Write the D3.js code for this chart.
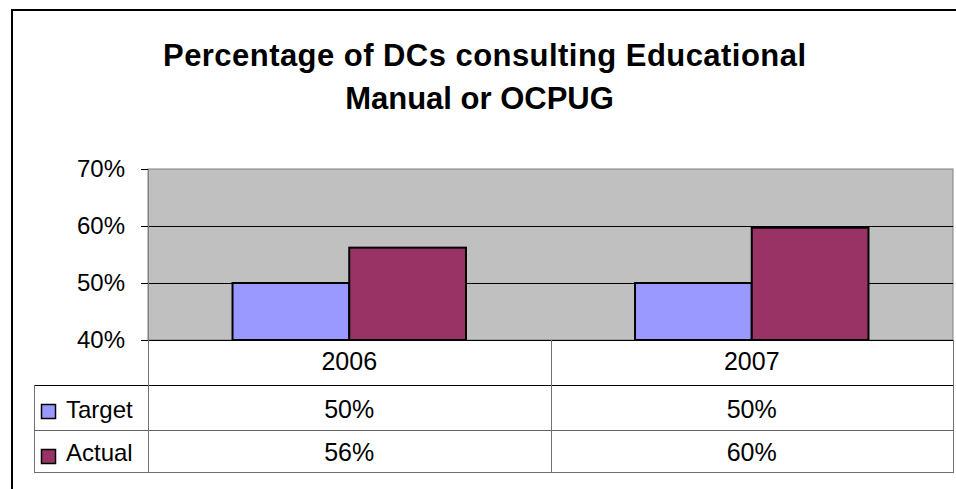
<!DOCTYPE html>
<html>
<head>
<meta charset="utf-8">
<script src="https://cdn.jsdelivr.net/npm/d3@7"></script>
<style>
  body { margin: 0; background: #fff; }
  text { font-family: Arial, "Liberation Sans", sans-serif; fill: #000; }
</style>
</head>
<body>
<div id="chart"></div>
<script>
'use strict';

var years = ['2006', '2007'];
var seriesNames = ['Target', 'Actual'];
var targetValues = [0.50, 0.50];
var actualValues = [0.562, 0.597];
var yTicks = [0.4, 0.5, 0.6, 0.7];
var titleLines = ['Percentage of DCs consulting Educational', 'Manual or OCPUG'];
var colors = ['#9999FF', '#993366'];

var width = 956, height = 489;
var plot = {left: 148, right: 953, top: 169, bottom: 340};
var rowH = [45, 45, 42];

var svg = d3.select('#chart').append('svg')
  .attr('width', width)
  .attr('height', height);

// outer frame
svg.append('rect')
  .attr('x', 12).attr('y', 10)
  .attr('width', width).attr('height', height)
  .attr('fill', '#fff')
  .attr('stroke', '#000')
  .attr('stroke-width', 2);

// title
var title = svg.append('text')
  .attr('text-anchor', 'middle')
  .style('font-size', '31px')
  .style('font-weight', 'bold');

title.append('tspan')
  .attr('x', 484.5)
  .attr('y', 66)
  .attr('textLength', 643)
  .attr('lengthAdjust', 'spacing')
  .text(titleLines[0]);

title.append('tspan')
  .attr('x', 479.5)
  .attr('y', 109)
  .text(titleLines[1]);

var x0 = d3.scaleBand()
  .domain(years)
  .range([plot.left, plot.right])
  .paddingInner(0)
  .paddingOuter(0);

var groupPad = 0.21;
var x1 = d3.scaleBand()
  .domain(seriesNames)
  .range([x0.bandwidth() * groupPad, x0.bandwidth() * (1 - groupPad)]);

var y = d3.scaleLinear()
  .domain([0.4, 0.7])
  .range([plot.bottom, plot.top]);

// plot background
svg.append('rect')
  .attr('x', plot.left).attr('y', plot.top)
  .attr('width', plot.right - plot.left)
  .attr('height', plot.bottom - plot.top)
  .attr('fill', '#C0C0C0')
  .attr('stroke', '#808080')
  .attr('stroke-width', 1);

// gridlines
svg.append('g')
  .selectAll('line')
  .data(yTicks.slice(1, -1))
  .enter().append('line')
  .attr('x1', plot.left).attr('x2', plot.right)
  .attr('y1', function(d) { return Math.round(y(d)) + 0.5; })
  .attr('y2', function(d) { return Math.round(y(d)) + 0.5; })
  .attr('stroke', '#000')
  .attr('stroke-width', 1);

// y axis
var yAxis = svg.append('g')
  .attr('transform', 'translate(' + plot.left + ',0)')
  .call(d3.axisLeft(y).tickValues(yTicks).tickFormat(d3.format('.0%')).tickSize(7).tickPadding(16));
yAxis.select('.domain').attr('stroke', '#808080');
yAxis.selectAll('.tick line').attr('stroke', '#000');
yAxis.selectAll('.tick text')
  .style('font-size', '24px')
  .attr('font-family', null);

// bars
var data = years.map(function(yr, i) {
  return {year: yr, values: [
    {name: seriesNames[0], value: targetValues[i]},
    {name: seriesNames[1], value: actualValues[i]}
  ]};
});

var groups = svg.append('g').selectAll('g')
  .data(data)
  .enter().append('g')
  .attr('transform', function(d) { return 'translate(' + x0(d.year) + ',0)'; });

groups.selectAll('rect')
  .data(function(d) { return d.values; })
  .enter().append('rect')
  .attr('x', function(d) { return x1(d.name); })
  .attr('y', function(d) { return y(d.value); })
  .attr('width', x1.bandwidth())
  .attr('height', function(d) { return plot.bottom - y(d.value); })
  .attr('fill', function(d, i) { return colors[i]; })
  .attr('stroke', '#000')
  .attr('stroke-width', 2);

// x axis line
svg.append('line')
  .attr('x1', plot.left).attr('x2', plot.right)
  .attr('y1', plot.bottom + 0.5).attr('y2', plot.bottom + 0.5)
  .attr('stroke', '#000');

// data table
var tableTop = plot.bottom;
var rowTops = [tableTop, tableTop + rowH[0], tableTop + rowH[0] + rowH[1]];
var tableBottom = rowTops[2] + rowH[2];
var legendLeft = 34;
var table = svg.append('g');

// horizontal lines
table.append('line')
  .attr('x1', legendLeft).attr('x2', plot.right)
  .attr('y1', rowTops[1] + 0.5).attr('y2', rowTops[1] + 0.5)
  .attr('stroke', '#000');
table.append('line')
  .attr('x1', legendLeft).attr('x2', plot.right)
  .attr('y1', rowTops[2] + 0.5).attr('y2', rowTops[2] + 0.5)
  .attr('stroke', '#606060');
table.append('line')
  .attr('x1', legendLeft).attr('x2', plot.right)
  .attr('y1', tableBottom + 0.5).attr('y2', tableBottom + 0.5)
  .attr('stroke', '#707070');

// vertical lines
var vlines = [
  {x: legendLeft, y1: rowTops[1]},
  {x: plot.left, y1: tableTop},
  {x: x0(years[1]), y1: tableTop},
  {x: plot.right, y1: tableTop}
];
table.selectAll('.vline')
  .data(vlines)
  .enter().append('line')
  .attr('class', 'vline')
  .attr('x1', function(d) { return Math.round(d.x) + 0.5; })
  .attr('x2', function(d) { return Math.round(d.x) + 0.5; })
  .attr('y1', function(d) { return d.y1; })
  .attr('y2', tableBottom + 1)
  .attr('stroke', '#707070');

// header row: years
table.selectAll('.yr')
  .data(years)
  .enter().append('text')
  .attr('class', 'yr')
  .attr('x', function(d) { return x0(d) + x0.bandwidth() / 2; })
  .attr('y', tableTop + 30)
  .attr('text-anchor', 'middle')
  .style('font-size', '25px')
  .text(function(d) { return d; });

// value rows
var rows = [targetValues, actualValues];
var rowBase = [33, 31];
rows.forEach(function(vals, r) {
  var rowY = rowTops[r + 1];
  table.selectAll('.val' + r)
    .data(vals)
    .enter().append('text')
    .attr('class', 'val' + r)
    .attr('x', function(d, i) { return x0(years[i]) + x0.bandwidth() / 2; })
    .attr('y', rowY + rowBase[r])
    .attr('text-anchor', 'middle')
    .style('font-size', '25px')
    .text(function(d) { return d3.format('.0%')(d); });

  table.append('rect')
    .attr('x', 41.5).attr('y', rowY + 19.5)
    .attr('width', 14).attr('height', 14)
    .attr('fill', colors[r])
    .attr('stroke', '#000')
    .attr('stroke-width', 1.5);

  table.append('text')
    .attr('x', 66)
    .attr('y', rowY + rowBase[r])
    .style('font-size', '24px')
    .text(seriesNames[r]);
});
</script>
</body>
</html>
